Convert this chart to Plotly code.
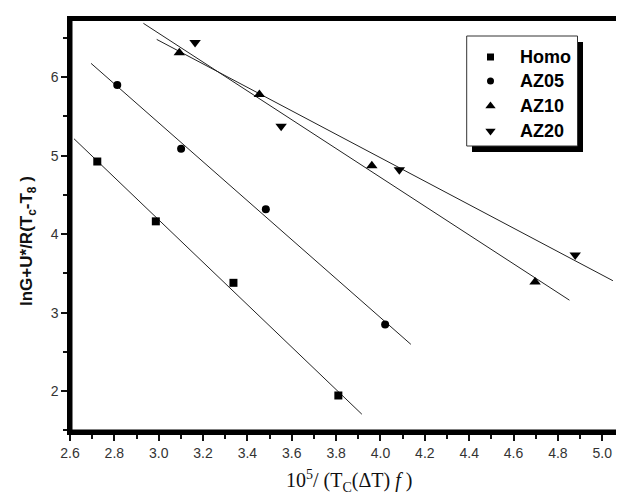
import numpy as np
import plotly.graph_objects as go

series_names = ["Homo", "AZ05", "AZ10", "AZ20"]
homo_x = [2.723, 2.987, 3.337, 3.810]
homo_y = [4.925, 4.163, 3.380, 1.945]
az05_x = [2.813, 3.101, 3.483, 4.021]
az05_y = [5.900, 5.087, 4.316, 2.850]
az10_x = [3.093, 3.454, 3.961, 4.697]
az10_y = [6.310, 5.780, 4.870, 3.390]
az20_x = [3.164, 3.552, 4.085, 4.878]
az20_y = [6.440, 5.375, 4.820, 3.735]
# x-extent of each linear fit line
fit_x_start = [2.618, 2.695, 2.931, 2.991]
fit_x_end = [3.916, 4.137, 4.852, 5.048]
x_ticks = [2.6, 2.8, 3.0, 3.2, 3.4, 3.6, 3.8, 4.0, 4.2, 4.4, 4.6, 4.8, 5.0]
x_ticklabels = ["2.6", "2.8", "3.0", "3.2", "3.4", "3.6", "3.8", "4.0", "4.2", "4.4", "4.6", "4.8", "5.0"]
y_ticks = [2, 3, 4, 5, 6]
x_title = "10<sup>5</sup>/ (T<sub>C</sub>(ΔT) <i>f</i> )"
y_title = "<b>lnG+U*/R(T<sub>c</sub>-T<sub>8</sub> )</b>"

xs = [homo_x, az05_x, az10_x, az20_x]
ys = [homo_y, az05_y, az10_y, az20_y]
symbols = ["square", "circle", "triangle-up", "triangle-down"]
sizes = [8, 8, 10, 10]
leg_sizes = [7, 7, 9, 9]

# page body has an 8px margin; figure is sized so the screen layout matches
OFF = 8
W, H = 616, 489
ML, MR, MT, MB = 62, 4, 11, 65
pw, ph = W - ML - MR, H - MT - MB

def px2paper(sx, sy):
    return (sx - OFF - ML) / pw, (H - MB - (sy - OFF)) / ph

fig = go.Figure()
for i in range(4):
    m, b = np.polyfit(xs[i], ys[i], 1)
    lx = np.array([fit_x_start[i], fit_x_end[i]])
    fig.add_trace(go.Scatter(x=lx, y=m * lx + b, mode="lines",
                             line=dict(color="#222", width=1), showlegend=False,
                             hoverinfo="skip"))
for i in range(4):
    fig.add_trace(go.Scatter(x=xs[i], y=ys[i], mode="markers", name=series_names[i],
                             marker=dict(symbol=symbols[i], size=sizes[i], color="black"),
                             showlegend=False))

# plot frame: thick left/bottom, thinner top/right
ix, iy = 1.0 / pw, 1.0 / ph
fig.add_shape(type="line", xref="paper", yref="paper", x0=0, y0=1 - iy, x1=1, y1=1 - iy,
              line=dict(color="black", width=2), layer="above")
fig.add_shape(type="line", xref="paper", yref="paper", x0=1 - ix, y0=0, x1=1 - ix, y1=1,
              line=dict(color="black", width=2), layer="above")
fig.add_shape(type="line", xref="paper", yref="paper", x0=ix, y0=0, x1=ix, y1=1,
              line=dict(color="black", width=3), layer="above")
fig.add_shape(type="line", xref="paper", yref="paper", x0=0, y0=iy, x1=1, y1=iy,
              line=dict(color="black", width=3), layer="above")

# custom legend (box with drop shadow, symbols, bold labels)
sx0, sy0 = px2paper(472, 152)
sx1, sy1 = px2paper(583, 42)
fig.add_shape(type="rect", xref="paper", yref="paper", x0=sx0, y0=sy0, x1=sx1, y1=sy1,
              fillcolor="black", line=dict(width=0), layer="below")
bx0, by0 = px2paper(466.7, 146)
bx1, by1 = px2paper(577.5, 36)
fig.add_shape(type="rect", xref="paper", yref="paper", x0=bx0, y0=by0, x1=bx1, y1=by1,
              fillcolor="white", line=dict(width=1, color="#333"), layer="below")
row_y = [57, 81, 106, 131]
for i in range(4):
    mx, my = px2paper(490.5, row_y[i])
    fig.add_trace(go.Scatter(x=[mx], y=[my], xaxis="x2", yaxis="y2",
                             mode="markers", showlegend=False, hoverinfo="skip",
                             marker=dict(symbol=symbols[i], size=leg_sizes[i], color="black")))
    tx, ty = px2paper(518, row_y[i])
    fig.add_annotation(x=tx, y=ty, xref="paper", yref="paper", xanchor="left", yanchor="middle",
                       text="<b>" + series_names[i] + "</b>", showarrow=False,
                       font=dict(size=18, family="Liberation Sans Narrow, Liberation Sans, Arial", color="black"))

# axis titles
ax_, ay_ = px2paper(349, 481)
fig.add_annotation(x=ax_, y=ay_, xref="paper", yref="paper", xanchor="center", yanchor="middle",
                   text=x_title, showarrow=False,
                   font=dict(family="Liberation Serif, Times New Roman", size=20, color="#111"))
yx_, yy_ = px2paper(28, 241)
fig.add_annotation(x=yx_, y=yy_, xref="paper", yref="paper", xanchor="center", yanchor="middle",
                   text=y_title, showarrow=False, textangle=-90,
                   font=dict(family="Liberation Sans, Arial", size=17, color="#111"))

fig.update_layout(
    width=W, height=H,
    margin=dict(l=ML, r=MR, t=MT, b=MB),
    paper_bgcolor="white", plot_bgcolor="white",
    font=dict(family="Liberation Sans, Arial", color="#222"),
    showlegend=False,
    xaxis=dict(range=[2.6, 5.08], tickmode="array", tickvals=x_ticks, ticktext=x_ticklabels,
               ticks="outside", ticklen=6, tickwidth=2, tickcolor="#111",
               minor=dict(dtick=0.1, ticks="outside", ticklen=4, tickwidth=1.5, tickcolor="#111"),
               showline=True, linewidth=2.5, linecolor="black", mirror=True,
               showgrid=False, zeroline=False, automargin=False,
               tickfont=dict(size=14, color="#333")),
    yaxis=dict(range=[1.48, 6.74], tickmode="array", tickvals=y_ticks,
               ticks="outside", ticklen=6, tickwidth=2, tickcolor="#111",
               minor=dict(dtick=0.5, ticks="outside", ticklen=4, tickwidth=1.5, tickcolor="#111"),
               showline=True, linewidth=2.5, linecolor="black", mirror=True,
               showgrid=False, zeroline=False, automargin=False,
               tickfont=dict(size=14, color="#333")),
    xaxis2=dict(overlaying="x", range=[0, 1], visible=False, fixedrange=True),
    yaxis2=dict(overlaying="y", range=[0, 1], visible=False, fixedrange=True),
)
fig.write_html("out.html")
